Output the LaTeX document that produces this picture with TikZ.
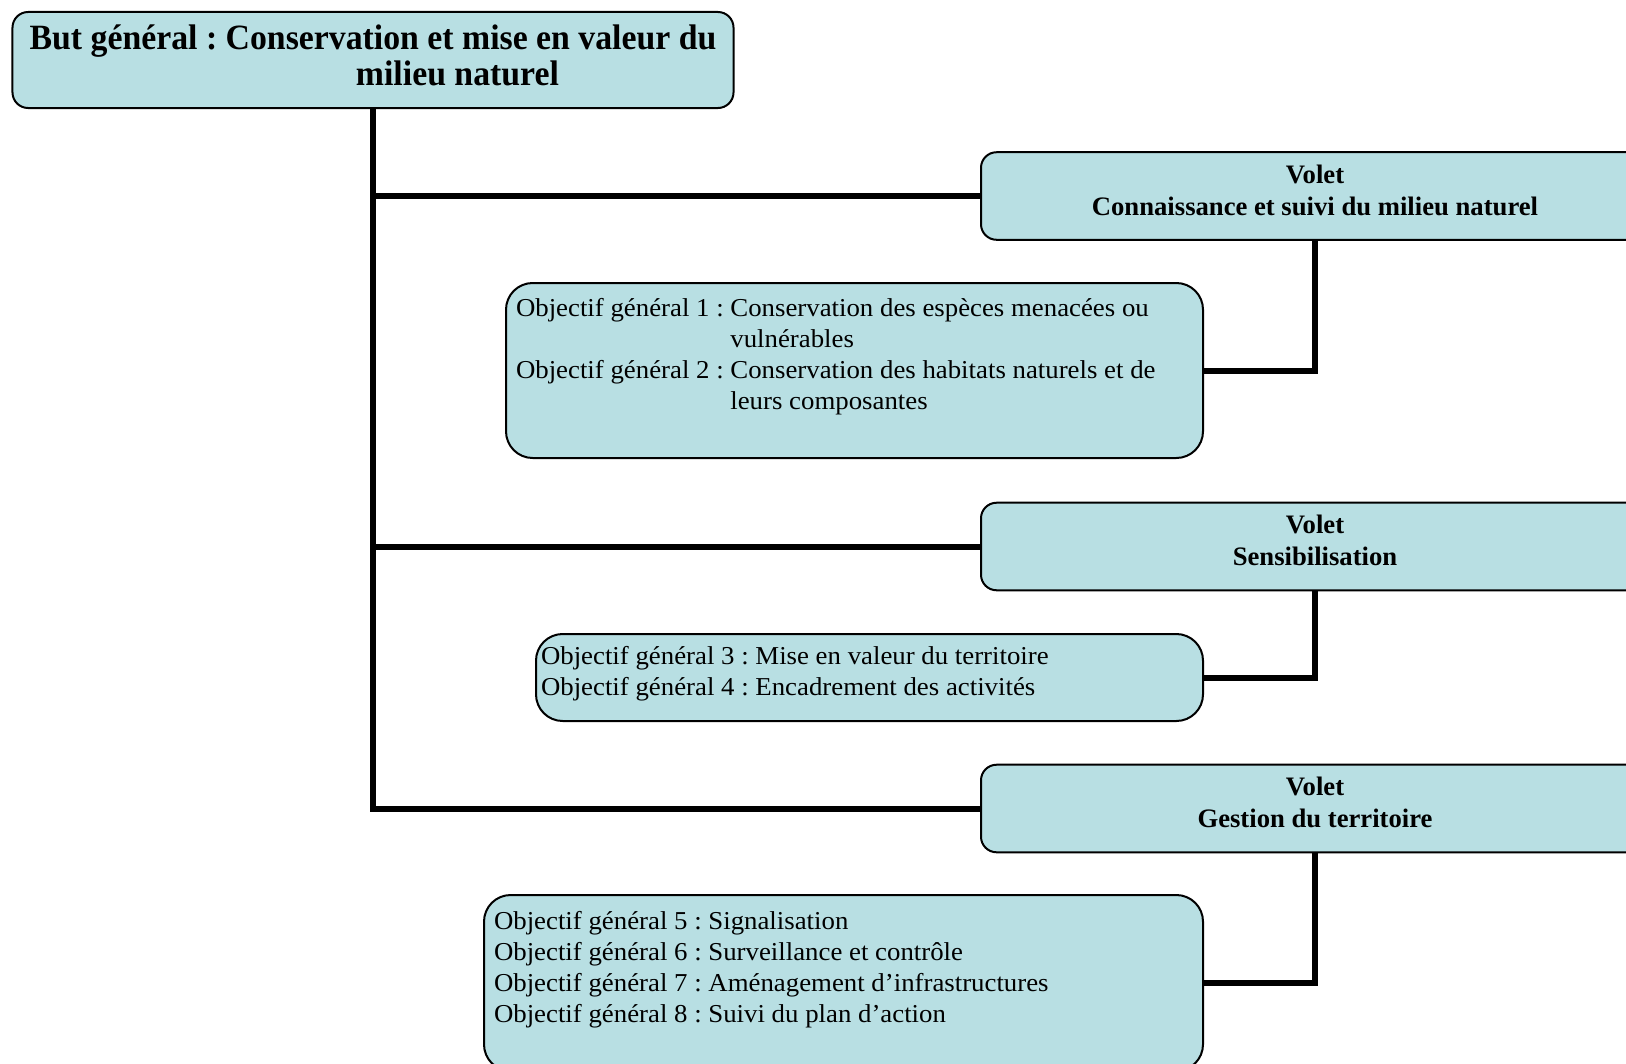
\documentclass[tikz,border=0pt]{standalone}
\usepackage{fontspec}
\setmainfont{Liberation Serif}
\newfontfamily\butfont{Liberation Serif}[FakeStretch=0.95]
\newfontfamily\voletfont{Liberation Serif}[FakeStretch=1.0]
\newfontfamily\objfont{Liberation Serif}[FakeStretch=1.04]
\definecolor{boxblue}{RGB}{184,223,227}
\frenchspacing

\begin{document}
\begin{tikzpicture}
  [x=0.45pt, y=-0.45pt,
   every node/.style={draw=black, line width=0.9pt, fill=boxblue, inner sep=0pt},
   butbox/.style={rounded corners=7pt, minimum width=324.45pt, minimum height=43.2pt,
     align=center, text depth=4.2pt, font=\butfont\bfseries\fontsize{16}{16.2}\selectfont},
   voletbox/.style={rounded corners=7pt, minimum width=300.6pt, minimum height=39.4pt,
     align=center, text depth=5.6pt, font=\voletfont\bfseries\fontsize{12}{14.4}\selectfont},
   objbox/.style={rounded corners=12pt, font=\objfont\fontsize{11.6}{13.95}\selectfont},
   link/.style={line width=2.7pt, draw=black}]
  \useasboundingbox (0,0) rectangle (1626,1063);
  \clip (0,0) rectangle (1626,1063);

  % but general
  \node[butbox] (but) at (373,60)
    {But général : Conservation et mise en valeur du\\\hspace*{76pt}milieu naturel};

  % volets
  \node[voletbox] (volet1) at (1315,196) {Volet\\Connaissance et suivi du milieu naturel};
  \node[voletbox] (volet2) at (1315,546.5) {Volet\\Sensibilisation};
  \node[voletbox] (volet3) at (1315,808.5) {Volet\\Gestion du territoire};

  % objectifs
  \node[objbox, inner xsep=4.5pt, inner ysep=5.5pt] (obj1) at (854.5,370.5)
    {\parbox[c][67.75pt][t]{304.65pt}{\begin{tabular}[t]{@{}l@{\ }l@{}}
      Objectif général 1 : & Conservation des espèces menacées ou\\
       & vulnérables\\
      Objectif général 2 : & Conservation des habitats naturels et de\\
       & leurs composantes
     \end{tabular}}};
  \node[objbox, inner xsep=2.25pt, inner ysep=4pt] (obj2) at (869.5,677.5)
    {\parbox[c][31.15pt][t]{295.65pt}{\begin{tabular}[t]{@{}l@{}}
      Objectif général 3 : Mise en valeur du territoire\\
      Objectif général 4 : Encadrement des activités
     \end{tabular}}};
  \node[objbox, inner xsep=4.5pt, inner ysep=5.6pt] (obj3) at (843.5,983)
    {\parbox[c][68pt][t]{314.55pt}{\begin{tabular}[t]{@{}l@{}}
      Objectif général 5 : Signalisation\\
      Objectif général 6 : Surveillance et contrôle\\
      Objectif général 7 : Aménagement d’infrastructures\\
      Objectif général 8 : Suivi du plan d’action
     \end{tabular}}};

  % liens
  \draw[link] (but.south) |- (volet3.west);
  \draw[link] (but.south |- volet1.west) -- (volet1.west);
  \draw[link] (but.south |- volet2.west) -- (volet2.west);
  \draw[link] (volet1.south) |- (obj1.east);
  \draw[link] (volet2.south) |- (obj2.east);
  \draw[link] (volet3.south) |- (obj3.east);
\end{tikzpicture}
\end{document}
